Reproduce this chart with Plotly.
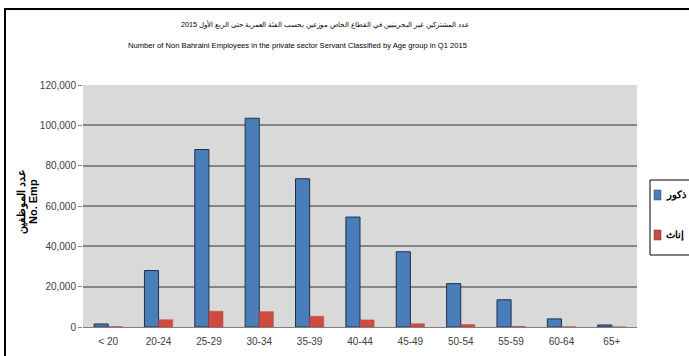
import plotly.graph_objects as go

# Age groups and head counts (Q1 2015)
age_groups = ["< 20", "20-24", "25-29", "30-34", "35-39", "40-44",
              "45-49", "50-54", "55-59", "60-64", "65+"]
males = [1500, 28000, 88000, 103500, 73500, 54500, 37300, 21500, 13500, 4000, 1000]
females = [200, 3600, 7800, 7600, 5300, 3500, 1600, 1200, 300, 100, 30]
series_names = ["ذكور", "إناث"]
series_colors = ["#4a7ebb", "#d04a42"]

title_ar = "عدد المشتركين غير البحرينيين في القطاع الخاص موزعين بحسب الفئة العمرية حتى الربع الأول 2015"
title_en = "Number of Non Bahraini Employees in the private sector Servant Classified by Age group in Q1 2015"
ytitle_ar = "عدد الموظفين"
ytitle_en = "No. Emp"
y_ticks = [0, 20000, 40000, 60000, 80000, 100000, 120000]

W, H = 689, 356
L, R, T, B = 83, 52, 85, 29
PW, PH = W - L - R, H - T - B


def px(x):
    return (x - L) / PW


def py(y):
    return (H - B - y) / PH


FONT = "Liberation Sans, Arial, sans-serif"

fig = go.Figure()
fig.add_trace(go.Bar(
    x=age_groups, y=males, name=series_names[0],
    marker=dict(color=series_colors[0], line=dict(color="#1d2f4a", width=1)),
))
fig.add_trace(go.Bar(
    x=age_groups, y=females, name=series_names[1],
    marker=dict(color=series_colors[1], line=dict(color="#b5433b", width=0.5)),
))

# Chart frame
shapes = [dict(
    type="rect", xref="paper", yref="paper",
    x0=px(5), x1=px(720), y0=py(380), y1=py(9),
    line=dict(color="black", width=2), fillcolor="rgba(0,0,0,0)",
)]
# Legend box beside the plot area, with one swatch per series
shapes.append(dict(
    type="rect", xref="paper", yref="paper",
    x0=px(650), x1=px(720), y0=py(255), y1=py(180),
    line=dict(color="black", width=1), fillcolor="white",
))
annotations = []
for i, (name, color) in enumerate(zip(series_names, series_colors)):
    cy = 195 + 40 * i
    shapes.append(dict(
        type="rect", xref="paper", yref="paper",
        x0=px(654), x1=px(661), y0=py(cy + 5), y1=py(cy - 5),
        line=dict(color="#404040", width=0.5), fillcolor=color,
    ))
    annotations.append(dict(
        text="<b>" + name + "</b>", xref="paper", yref="paper",
        x=px(664), y=py(cy), xanchor="left", yanchor="middle",
        showarrow=False, font=dict(family=FONT, size=10, color="black"),
    ))

annotations += [
    dict(text=title_ar, xref="paper", yref="paper",
         x=px(325), y=py(24), xanchor="center", yanchor="middle",
         showarrow=False, font=dict(family=FONT, size=7.2, color="black")),
    dict(text=title_en, xref="paper", yref="paper",
         x=px(297), y=py(46), xanchor="center", yanchor="middle",
         showarrow=False, font=dict(family=FONT, size=7.6, color="black")),
    dict(text="<b>" + ytitle_ar + "</b>", xref="paper", yref="paper",
         x=px(21), y=py(202), xanchor="center", yanchor="middle",
         showarrow=False, textangle=-90,
         font=dict(family=FONT, size=11, color="black")),
    dict(text="<b>" + ytitle_en + "</b>", xref="paper", yref="paper",
         x=px(33), y=py(202), xanchor="center", yanchor="middle",
         showarrow=False, textangle=-90,
         font=dict(family=FONT, size=11, color="black")),
]

fig.update_layout(
    width=W, height=H,
    margin=dict(l=L, r=R, t=T, b=B, autoexpand=False),
    paper_bgcolor="white",
    plot_bgcolor="#d9d9d9",
    barmode="group", bargap=0.44, bargroupgap=0,
    showlegend=False,
    font=dict(family=FONT, size=10, color="#404040"),
    xaxis=dict(
        showgrid=False, showline=True, linecolor="#7f7f7f", linewidth=1,
        ticks="", ticklabelstandoff=5, tickfont=dict(size=10, color="#404040"),
    ),
    yaxis=dict(
        range=[0, 120000], tickvals=y_ticks, tickformat=",d",
        showgrid=True, gridcolor="#858585", gridwidth=1.5,
        zeroline=False, showline=False,
        ticks="outside", ticklen=4, tickcolor="#858585",
        tickfont=dict(size=10, color="#404040"),
    ),
    shapes=shapes,
    annotations=annotations,
)

fig.write_html("out.html")
